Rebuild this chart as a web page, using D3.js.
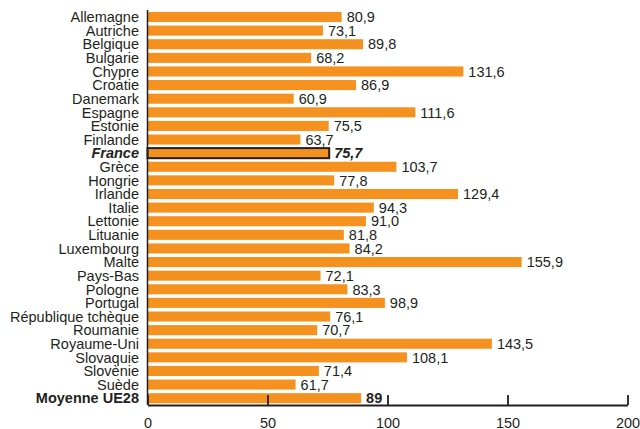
<!DOCTYPE html>
<html>
<head>
<meta charset="utf-8">
<script src="https://cdn.jsdelivr.net/npm/d3@7"></script>
<style>
  body { margin: 0; background: #fff; }
  svg text { font-family: "Liberation Sans", Arial, Helvetica, sans-serif; fill: #231f20; }
</style>
</head>
<body>
<svg width="640" height="429"></svg>
<script>
// Données
const pays = ['Allemagne', 'Autriche', 'Belgique', 'Bulgarie', 'Chypre', 'Croatie', 'Danemark',
  'Espagne', 'Estonie', 'Finlande', 'France', 'Grèce', 'Hongrie', 'Irlande', 'Italie', 'Lettonie',
  'Lituanie', 'Luxembourg', 'Malte', 'Pays-Bas', 'Pologne', 'Portugal', 'République tchèque',
  'Roumanie', 'Royaume-Uni', 'Slovaquie', 'Slovènie', 'Suède', 'Moyenne UE28']
const valeurs = [80.9, 73.1, 89.8, 68.2, 131.6, 86.9, 60.9, 111.6, 75.5, 63.7, 75.7, 103.7, 77.8,
  129.4, 94.3, 91.0, 81.8, 84.2, 155.9, 72.1, 83.3, 98.9, 76.1, 70.7, 143.5, 108.1, 71.4, 61.7, 89]
const ticks = [0, 50, 100, 150, 200]

const data = pays.map((p, i) => ({ pays: p, valeur: valeurs[i] }))

const svg = d3.select('svg')
const orange = '#f5921f'
const ink = '#231f20'

const x = d3.scaleLinear().domain([0, 200]).range([147.5, 627.5])
const y = d3.scaleBand()
  .domain(pays)
  .range([10.2, 405])
  .paddingInner(0.26)
  .paddingOuter(0.13)

const estFrance = d => d.pays === 'France'
const estMoyenne = d => d.pays === 'Moyenne UE28'
const virgule = d => estMoyenne(d) ? String(d.valeur) : d3.format('.1f')(d.valeur).replace('.', ',')

// Barres
svg.append('g')
  .selectAll('rect')
  .data(data)
  .join('rect')
    .attr('x', x(0))
    .attr('y', d => y(d.pays))
    .attr('width', d => x(d.valeur) - x(0))
    .attr('height', y.bandwidth())
    .attr('fill', orange)
    .attr('stroke', d => estFrance(d) ? ink : 'none')
    .attr('stroke-width', 2)

// Noms des pays
svg.append('g')
  .selectAll('text')
  .data(data)
  .join('text')
    .attr('x', 139)
    .attr('y', d => y(d.pays) + y.bandwidth() / 2)
    .attr('dy', '0.36em')
    .attr('text-anchor', 'end')
    .attr('font-size', 14.5)
    .attr('font-weight', d => estFrance(d) || estMoyenne(d) ? 'bold' : 'normal')
    .attr('font-style', d => estFrance(d) ? 'italic' : 'normal')
    .text(d => d.pays)

// Valeurs
svg.append('g')
  .selectAll('text')
  .data(data)
  .join('text')
    .attr('x', d => x(d.valeur) + 5)
    .attr('y', d => y(d.pays) + y.bandwidth() / 2)
    .attr('dy', '0.36em')
    .attr('font-size', 14.5)
    .attr('font-weight', d => estFrance(d) || estMoyenne(d) ? 'bold' : 'normal')
    .attr('font-style', d => estFrance(d) ? 'italic' : 'normal')
    .text(virgule)

// Axe vertical
svg.append('line')
  .attr('x1', x(0)).attr('x2', x(0))
  .attr('y1', 10).attr('y2', 405)
  .attr('stroke', ink)
  .attr('stroke-width', 1.5)

// Axe horizontal, graduations vers le haut
const axe = svg.append('g')
  .attr('transform', 'translate(0, 405)')
  .call(d3.axisBottom(x).tickValues(ticks).tickSizeInner(-10).tickSizeOuter(0).tickPadding(12.5)
    .tickFormat(d3.format('d')))

axe.select('.domain').attr('stroke', ink).attr('stroke-width', 1.8)
axe.selectAll('.tick line').attr('stroke', ink).attr('stroke-width', 1.8)
axe.selectAll('.tick text')
  .attr('font-size', 14.5)
  .attr('fill', ink)
  .attr('font-family', '"Liberation Sans", Arial, sans-serif')
</script>
</body>
</html>
